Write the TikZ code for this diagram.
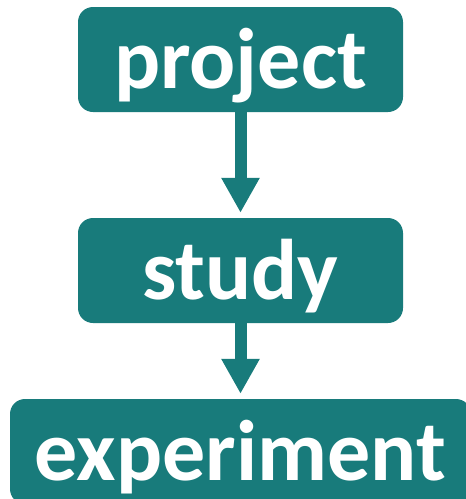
\documentclass[tikz,border=0pt]{standalone}
\usepackage{fontspec}
\setmainfont{Carlito}
\usetikzlibrary{arrows.meta}
\definecolor{teal1}{RGB}{24,123,123}
\tikzset{
  box/.style={rectangle, rounded corners=15pt, fill=teal1, text=white, inner sep=0pt,
    text height=81pt, text depth=24pt, anchor=base,
    font=\fontsize{86}{86}\selectfont\bfseries},
  conn/.style={draw=teal1, line width=12pt, -{Triangle[width=36pt,length=35pt]}, shorten >=5pt}
}
\begin{document}
\begin{tikzpicture}[x=1pt,y=-1pt]
\useasboundingbox (0,0) rectangle (466,499);
\clip (0,0) rectangle (466,499);
\node[box, minimum width=325pt] (project) at (240.5,88) {project};
\node[box, minimum width=325pt] (study) at (240.5,299) {study};
\node[box, minimum width=461pt] (experiment) at (240.5,480) {experiment};
\draw[conn] (project.south) -- (study.north);
\draw[conn] (study.south) -- (experiment.north);
\end{tikzpicture}
\end{document}
